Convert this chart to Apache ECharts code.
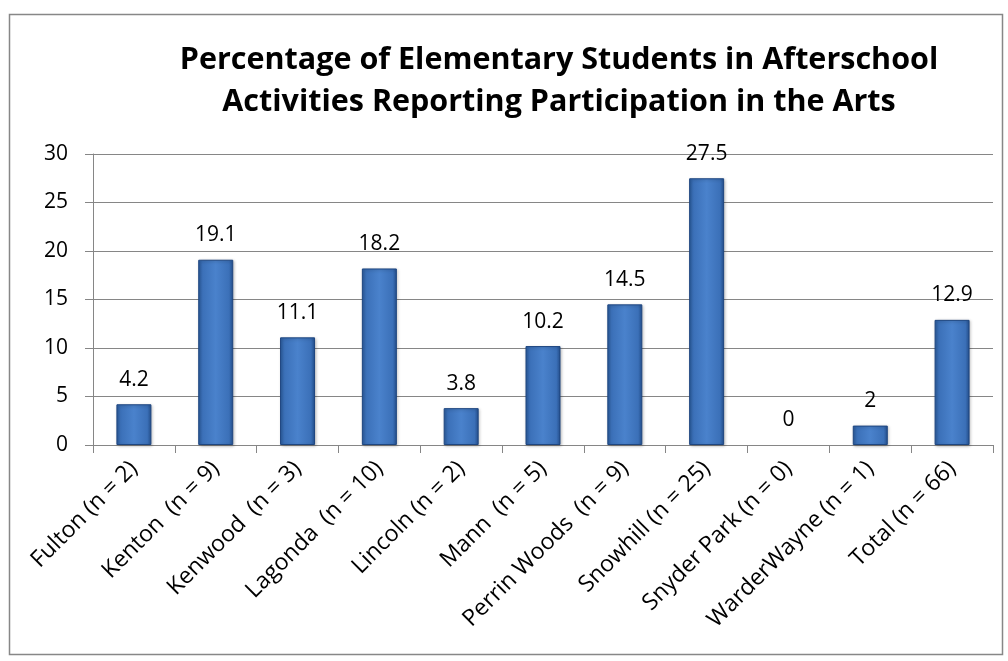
<!DOCTYPE html>
<html>
<head>
<meta charset="utf-8">
<script src="https://cdn.jsdelivr.net/npm/echarts@6/dist/echarts.min.js"></script>
<style>
html,body{margin:0;padding:0;background:#fff;}
#chart{width:1008px;height:661px;}
</style>
</head>
<body>
<div id="chart"></div>
<script>
const titleText = "Percentage of Elementary Students in Afterschool\nActivities Reporting Participation in the Arts";
const categories = ["Fulton (n = 2)", "Kenton  (n = 9)", "Kenwood  (n = 3)", "Lagonda  (n = 10)", "Lincoln (n = 2)", "Mann  (n = 5)", "Perrin Woods  (n = 9)", "Snowhill (n = 25)", "Snyder Park (n = 0)", "WarderWayne (n = 1)", "Total (n = 66)"];
const values = [4.2, 19.1, 11.1, 18.2, 3.8, 10.2, 14.5, 27.5, 0, 2, 12.9];
const yTicks = { min: 0, max: 30, interval: 5 };

const chart = echarts.init(document.getElementById('chart'), null, { renderer: 'canvas' });
const fontFam = "'Open Sans', 'Noto Sans', sans-serif";
const seriesData = values.map(v => v === 0
  ? { value: v, itemStyle: { borderWidth: 0, shadowBlur: 0, shadowOffsetX: 0, shadowOffsetY: 0, opacity: 0 }, label: { opacity: 1 } }
  : v);
chart.setOption({
  animation: false,
  backgroundColor: '#fff',
  graphic: [{
    type: 'rect', left: 7, top: 12,
    shape: { width: 993, height: 640 },
    style: { fill: 'none', stroke: '#878787', lineWidth: 1.5 },
    silent: true, z: -1
  }],
  title: {
    text: titleText,
    left: 554, top: 34, textAlign: 'center',
    textStyle: { fontFamily: fontFam, fontWeight: 'bold', fontSize: 30.5, lineHeight: 42, color: '#000' }
  },
  grid: { left: 93, right: 15, top: 154, bottom: 216, containLabel: false },
  xAxis: {
    type: 'category',
    data: categories,
    axisLine: { show: true, lineStyle: { color: '#868686', width: 1 } },
    axisTick: { show: true, alignWithLabel: false, length: 8, lineStyle: { color: '#868686' } },
    axisLabel: {
      interval: 0, rotate: 45, fontFamily: fontFam, fontSize: 23, color: '#000', margin: 20
    }
  },
  yAxis: {
    type: 'value',
    min: yTicks.min, max: yTicks.max, interval: yTicks.interval,
    axisLine: { show: true, lineStyle: { color: '#868686', width: 1 } },
    axisTick: { show: true, length: 8, lineStyle: { color: '#868686' } },
    axisLabel: { fontFamily: fontFam, fontSize: 21, color: '#000', margin: 25 },
    splitLine: { show: true, lineStyle: { color: '#868686', width: 1 } }
  },
  series: [{
    type: 'bar',
    data: seriesData,
    barWidth: 35,
    itemStyle: {
      color: {
        type: 'linear', x: 0, y: 0, x2: 1, y2: 0,
        colorStops: [
          { offset: 0, color: '#2b5c9e' },
          { offset: 0.12, color: '#3b70b8' },
          { offset: 0.5, color: '#4a82cc' },
          { offset: 0.88, color: '#3b70b8' },
          { offset: 1, color: '#244f8c' }
        ]
      },
      borderColor: '#1e4680',
      borderWidth: 1,
      shadowColor: 'rgba(0,0,0,0.25)',
      shadowBlur: 3,
      shadowOffsetX: 1,
      shadowOffsetY: 1
    },
    label: {
      show: true, position: 'top', distance: 14,
      fontFamily: fontFam, fontSize: 21, color: '#000'
    }
  }]
});
</script>
</body>
</html>
